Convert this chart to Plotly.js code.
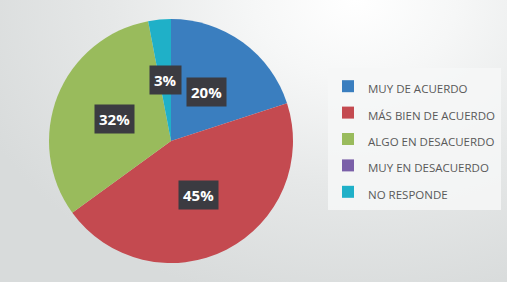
<!DOCTYPE html>
<html>
<head>
<meta charset="utf-8">
<script src="https://cdn.plot.ly/plotly-3.0.1.min.js"></script>
<style>
  html, body { margin:0; padding:0; }
  body {
    width:507px; height:282px; overflow:hidden;
    background: radial-gradient(ellipse 80% 110% at 70% 0%, #ffffff 0%, #f6f7f7 25%, #e6e8e8 60%, #d8dbdb 100%);
  }
  #chart { width:507px; height:282px; }
</style>
</head>
<body>
<div id="chart"></div>
<script>
// ---- data ----
const categories = ["MUY DE ACUERDO", "MÁS BIEN DE ACUERDO", "ALGO EN DESACUERDO", "MUY EN DESACUERDO", "NO RESPONDE"];
const values = [20, 45, 32, 0, 3];
const colors = ["#3a7ebf", "#c44a50", "#99bb5c", "#7a5fa8", "#1fb0c8"];

// ---- layout geometry ----
const W = 507, H = 282;
const cxPx = 171, cyPx = 141, rPx = 122;
const domX = [(cxPx - rPx) / W, (cxPx + rPx) / W];
const domY = [(H - cyPx - rPx) / H, (H - cyPx + rPx) / H];

// label positions: on the bisector of each slice, at half the radius
const total = values.reduce((a, b) => a + b, 0);
const annotations = [];
let cum = 0;
values.forEach((v, i) => {
  const mid = (cum + v / 2) / total * 2 * Math.PI;
  cum += v;
  if (v <= 0) return;
  const px = cxPx + 0.5 * rPx * Math.sin(mid);
  const py = cyPx - 0.5 * rPx * Math.cos(mid);
  annotations.push({
    xref: "paper", yref: "paper",
    x: px / W, y: (H - py) / H,
    xanchor: "center", yanchor: "middle",
    text: "<b>" + Math.round(v / total * 100) + "%</b>",
    showarrow: false,
    bgcolor: "#3b3b41",
    borderpad: 4,
    font: { family: "Open Sans, sans-serif", size: 15, color: "#ffffff" }
  });
});

const trace = {
  type: "pie",
  labels: categories.map(c => '<span style="font-size:11.5px">' + c + '</span>'),
  values: values,
  sort: false,
  direction: "clockwise",
  rotation: 0,
  marker: { colors: colors, line: { width: 0 } },
  textinfo: "none",
  hoverinfo: "none",
  domain: { x: domX, y: domY }
};

const layout = {
  width: W, height: H,
  margin: { l: 0, r: 0, t: 0, b: 0 },
  paper_bgcolor: "rgba(0,0,0,0)",
  plot_bgcolor: "rgba(0,0,0,0)",
  showlegend: true,
  legend: {
    x: 328 / W, y: (H - 68) / H,
    xanchor: "left", yanchor: "top",
    bgcolor: "rgba(246,247,247,0.85)",
    font: { family: "Open Sans, sans-serif", size: 18, color: "#595959" },
    itemwidth: 30
  },
  annotations: annotations
};

Plotly.newPlot("chart", [trace], layout, { displayModeBar: false, staticPlot: true });
</script>
</body>
</html>
